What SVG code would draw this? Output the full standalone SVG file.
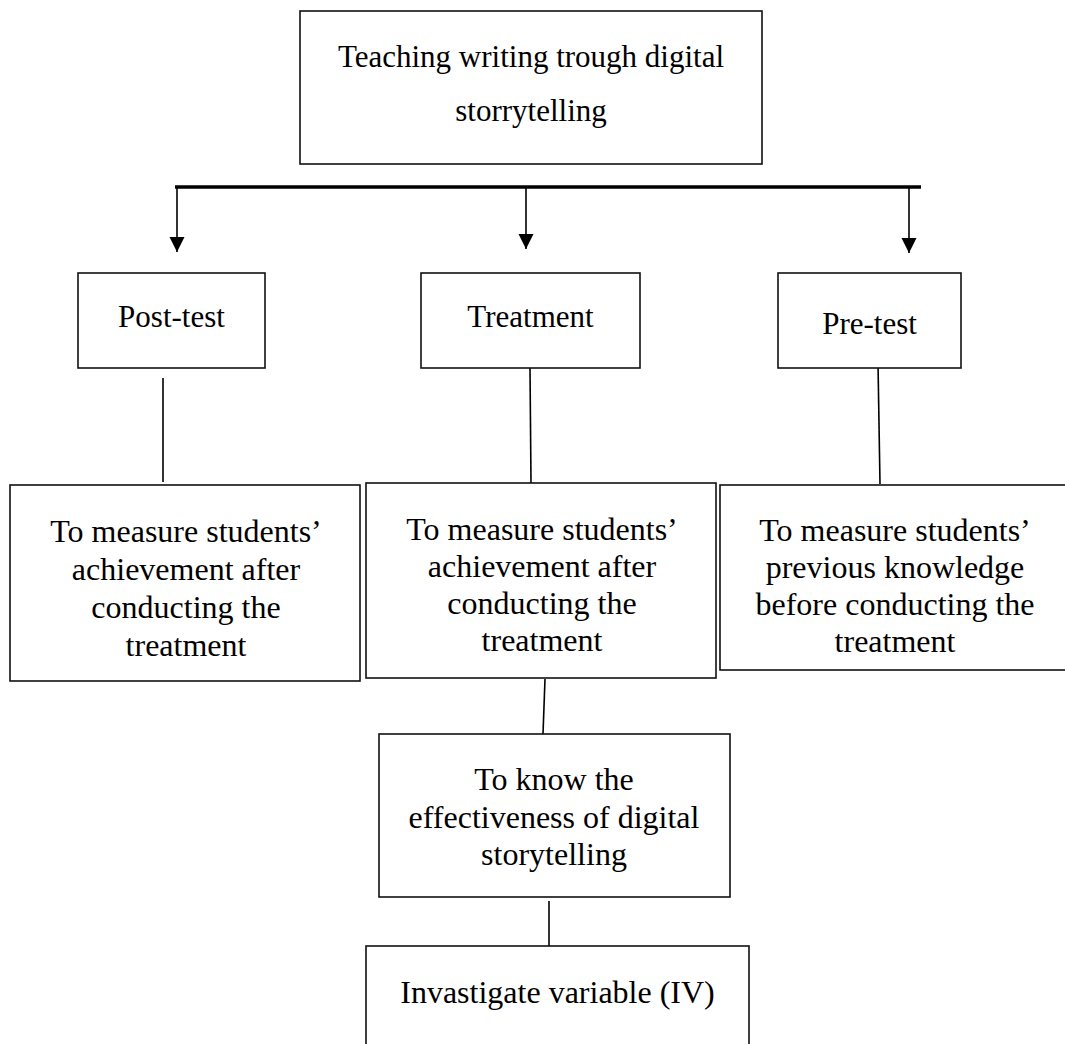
<svg xmlns="http://www.w3.org/2000/svg" width="1065" height="1044" viewBox="0 0 1065 1044">
<style>
.box{fill:#fff;stroke:#111;stroke-width:1.6}
.t{font-family:"Liberation Serif","Times New Roman",serif;fill:#000;text-anchor:middle}
.h{font-size:31px}
.p{font-size:32px}
.ln{stroke:#000;stroke-width:1.6;fill:none}
.bar{stroke:#000;stroke-width:3.5;fill:none}
</style>
<defs>
<marker id="ah" markerUnits="userSpaceOnUse" markerWidth="16" markerHeight="16" refX="15" refY="7.5" orient="auto">
<path d="M0,0 L15,7.5 L0,15 Z" fill="#000"/>
</marker>
</defs>
<g id="connectors">
<line class="bar" x1="175" y1="187" x2="921" y2="187"/>
<line class="ln" x1="177" y1="187" x2="177" y2="252" marker-end="url(#ah)"/>
<line class="ln" x1="526" y1="187" x2="526" y2="249" marker-end="url(#ah)"/>
<line class="ln" x1="909" y1="187" x2="909" y2="253" marker-end="url(#ah)"/>
<line class="ln" x1="163" y1="378" x2="163" y2="482"/>
<line class="ln" x1="530" y1="368" x2="531" y2="483"/>
<line class="ln" x1="878" y1="363" x2="880" y2="484"/>
<line class="ln" x1="545" y1="679" x2="543" y2="734"/>
<line class="ln" x1="549" y1="901" x2="549" y2="946"/>
</g>
<g id="n-top">
<rect class="box" x="300" y="11" width="462" height="153"/>
<text class="t h" x="531" y="67">Teaching writing trough digital</text>
<text class="t h" x="531" y="121">storrytelling</text>
</g>
<g id="n-post">
<rect class="box" x="78" y="273" width="187" height="95"/>
<text class="t h" x="171.5" y="327">Post-test</text>
</g>
<g id="n-treat">
<rect class="box" x="421" y="273" width="219" height="95"/>
<text class="t h" x="530.5" y="327">Treatment</text>
</g>
<g id="n-pre">
<rect class="box" x="778" y="273" width="183" height="95"/>
<text class="t h" x="869.5" y="334">Pre-test</text>
</g>
<g id="n-post-aim">
<rect class="box" x="10" y="485" width="350" height="196"/>
<text class="t p" x="186" y="542">To measure students’</text>
<text class="t p" x="186" y="580">achievement after</text>
<text class="t p" x="186" y="618">conducting the</text>
<text class="t p" x="186" y="656">treatment</text>
</g>
<g id="n-treat-aim">
<rect class="box" x="366" y="483" width="350" height="195"/>
<text class="t p" x="542" y="540">To measure students’</text>
<text class="t p" x="542" y="577">achievement after</text>
<text class="t p" x="542" y="614">conducting the</text>
<text class="t p" x="542" y="651">treatment</text>
</g>
<g id="n-pre-aim">
<rect class="box" x="720" y="485" width="350" height="185"/>
<text class="t p" x="895" y="541">To measure students’</text>
<text class="t p" x="895" y="578">previous knowledge</text>
<text class="t p" x="895" y="615">before conducting the</text>
<text class="t p" x="895" y="652">treatment</text>
</g>
<g id="n-effect">
<rect class="box" x="379" y="734" width="351" height="163"/>
<text class="t p" x="554" y="790">To know the</text>
<text class="t p" x="554" y="828">effectiveness of digital</text>
<text class="t p" x="554" y="865">storytelling</text>
</g>
<g id="n-iv">
<rect class="box" x="366" y="946" width="383" height="120"/>
<text class="t p" x="557.5" y="1003">Invastigate variable (IV)</text>
</g>
</svg>
